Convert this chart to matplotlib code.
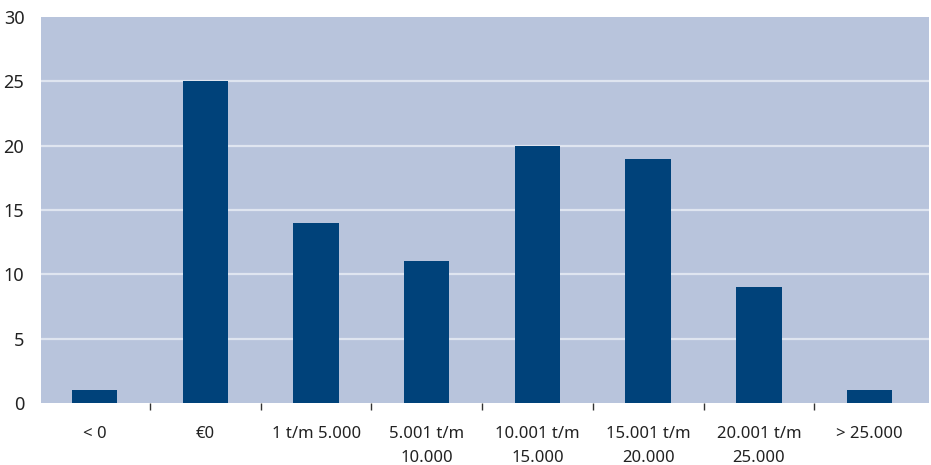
import matplotlib
matplotlib.use("Agg")
import matplotlib.pyplot as plt
import numpy as np

categories = ["< 0", "€0", "1 t/m 5.000", "5.001 t/m\n10.000", "10.001 t/m\n15.000",
              "15.001 t/m\n20.000", "20.001 t/m\n25.000", "> 25.000"]
values = [1, 25, 14, 11, 20, 19, 9, 1]
yticks = [0, 5, 10, 15, 20, 25, 30]

plt.rcParams["font.family"] = ["Noto Sans", "DejaVu Sans"]

fig = plt.figure(figsize=(9.31, 4.65), dpi=100)
W, H = 931, 465
left, right, top, bottom = 41, 929, 17, 403
ax = fig.add_axes([left / W, 1 - bottom / H, (right - left) / W, (bottom - top) / H])

ax.set_facecolor("#b8c4dc")
x = np.arange(len(categories))
ax.bar(x, values, width=0.41, color="#00427a", zorder=3)

ax.set_ylim(0, 30)
ax.set_xlim(-0.485, 7.537)
ax.set_yticks(yticks)
ax.set_yticklabels([str(v) for v in yticks], fontsize=13, color="#222222")
ax.tick_params(axis="y", length=0, pad=12)

for y in yticks[1:-1]:
    ax.axhline(y, color="#dfe5f0", linewidth=1.6, zorder=2)

# category labels centred, tick marks on the boundaries between categories
ax.set_xticks(x)
ax.set_xticklabels(categories, fontsize=12, color="#222222", linespacing=1.68)
ax.tick_params(axis="x", which="major", length=0, pad=16.5)
ax.set_xticks(np.arange(0.5, len(categories) - 1, 1.0), minor=True)
ax.tick_params(axis="x", which="minor", length=5, width=1, color="#333333", direction="out")

for s in ax.spines.values():
    s.set_visible(False)

fig.savefig("out.png", dpi=100)
